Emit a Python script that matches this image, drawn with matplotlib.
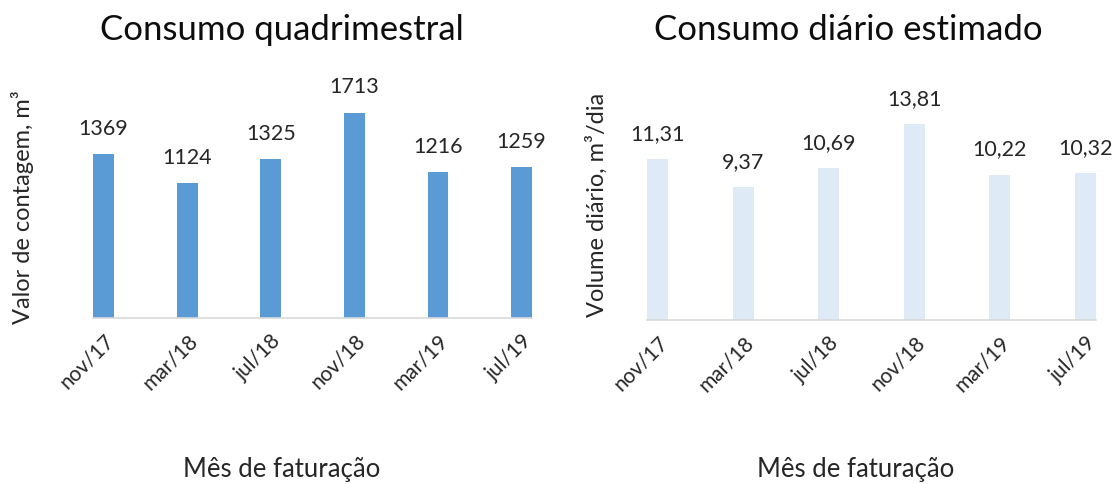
import matplotlib
matplotlib.use("Agg")
import matplotlib.pyplot as plt
import numpy as np

# data
months = ["nov/17", "mar/18", "jul/18", "nov/18", "mar/19", "jul/19"]
consumo_quad = [1369, 1124, 1325, 1713, 1216, 1259]
consumo_diario = [11.31, 9.37, 10.69, 13.81, 10.22, 10.32]

plt.rcParams["font.family"] = ["Lato", "DejaVu Sans"]

fig = plt.figure(figsize=(11.18, 4.84), dpi=100)
ax1 = fig.add_axes([0.0832, 0.343, 0.3927, 0.533])
ax2 = fig.add_axes([0.5787, 0.3388, 0.4016, 0.537])

bar_w = 0.25
txt = "#262626"


def draw_panel(ax, values, color, ymax, fmt):
    x = np.arange(len(values))
    ax.bar(x, values, width=bar_w, color=color)
    ax.set_xlim(-bar_w / 2, len(values) - 1 + bar_w / 2)
    ax.set_ylim(0, ymax)
    for xi, v in zip(x, values):
        ax.annotate(fmt(v), (xi, v), xytext=(0, 11), textcoords="offset points",
                    ha="center", va="bottom", fontsize=15.5, color=txt)
    for side in ["top", "right", "left"]:
        ax.spines[side].set_visible(False)
    ax.spines["bottom"].set_color("#D9D9D9")
    ax.spines["bottom"].set_linewidth(1.2)
    ax.set_yticks([])
    ax.set_xticks(x)
    ax.set_xticklabels(months, rotation=45, ha="right", rotation_mode="anchor",
                       fontsize=15, color=txt)
    ax.tick_params(axis="x", length=0, pad=9)


draw_panel(ax1, consumo_quad, "#5B9BD5", 2153, lambda v: f"{v}")
draw_panel(ax2, consumo_diario, "#DEEBF7", 18.3, lambda v: f"{v:.2f}".replace(".", ","))

# titles, axis labels placed as in the reference
fig.text(0.252, 0.938, "Consumo quadrimestral", ha="center", va="center", fontsize=25, color="#0d0d0d")
fig.text(0.759, 0.938, "Consumo diário estimado", ha="center", va="center", fontsize=25, color="#0d0d0d")
fig.text(0.020, 0.572, "Valor de contagem, m³", rotation=90, ha="center", va="center", fontsize=17, color=txt)
fig.text(0.534, 0.576, "Volume diário, m³/dia", rotation=90, ha="center", va="center", fontsize=17, color=txt)
fig.text(0.252, 0.029, "Mês de faturação", ha="center", va="center", fontsize=18.5, color=txt)
fig.text(0.765, 0.029, "Mês de faturação", ha="center", va="center", fontsize=18.5, color=txt)

fig.savefig("out.png", dpi=100)
